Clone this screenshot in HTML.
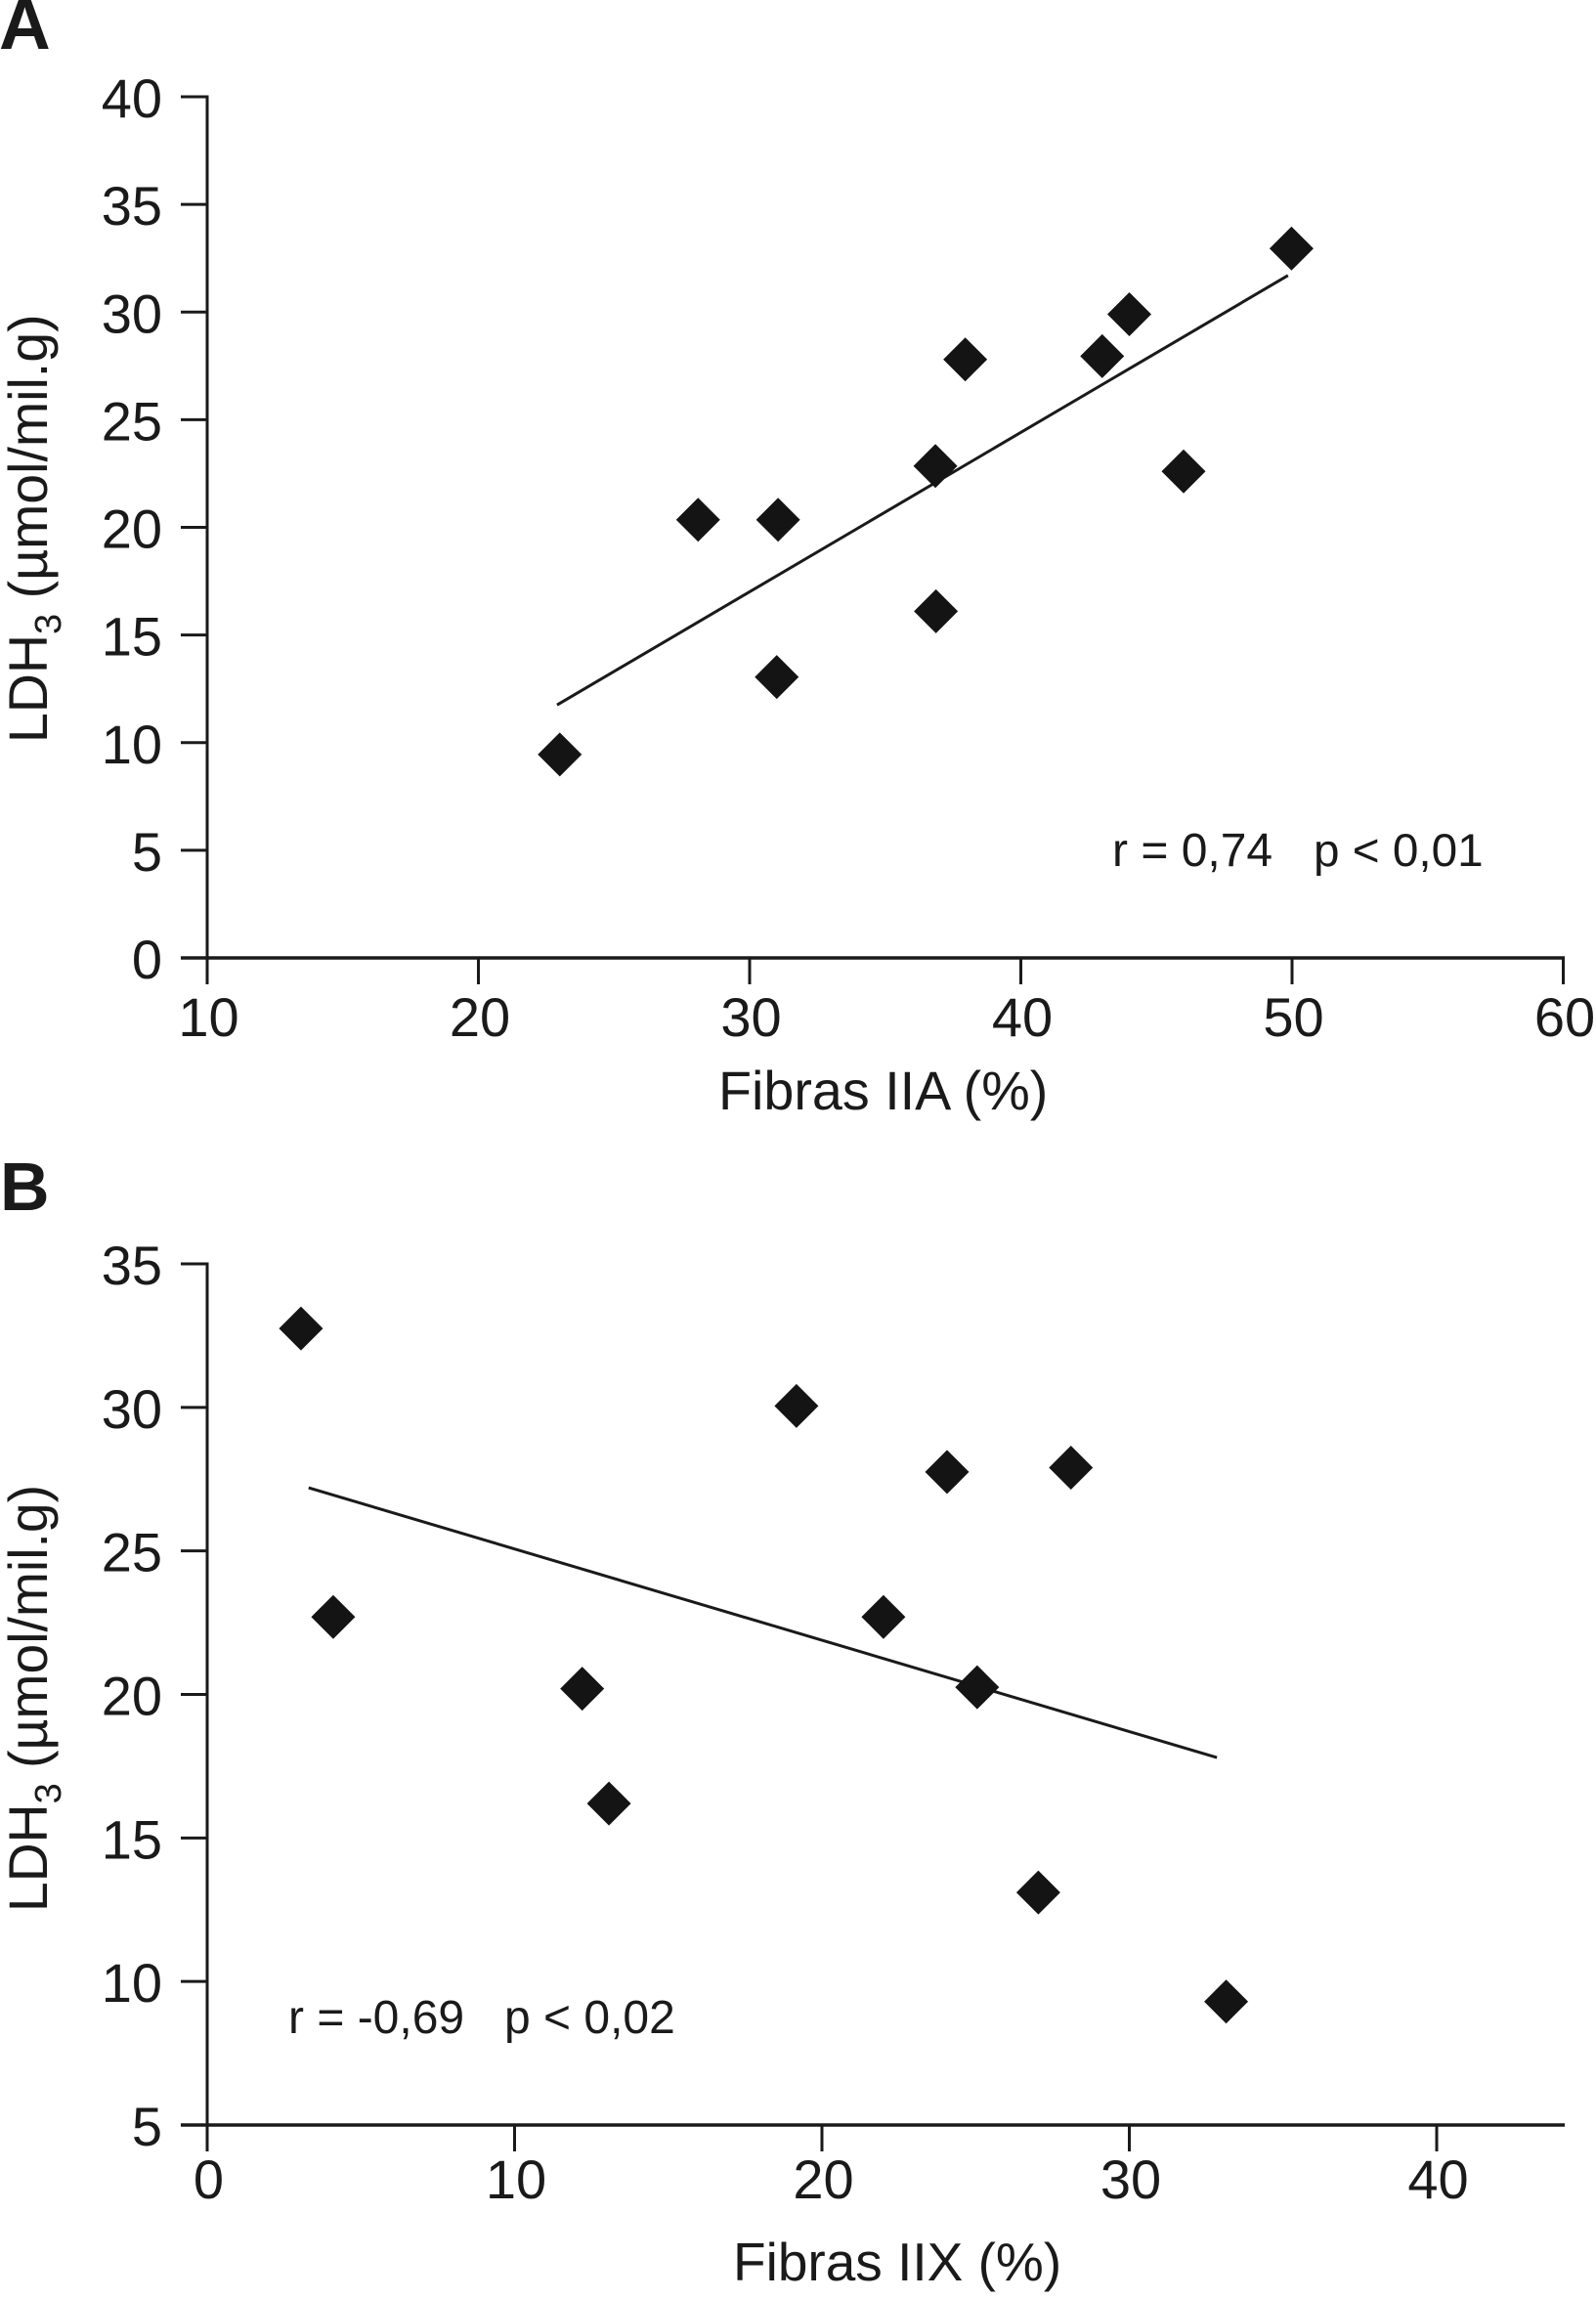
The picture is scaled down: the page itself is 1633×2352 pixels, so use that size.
<!DOCTYPE html>
<html lang="pt">
<head>
<meta charset="utf-8">
<title>LDH3 vs Fibras</title>
<style>
html,body{margin:0;padding:0;background:#fff;width:1633px;height:2352px;overflow:hidden}
svg{display:block}
text{font-family:"Liberation Sans",sans-serif;fill:#1a1a1a}
</style>
</head>
<body>
<svg id="figure" xmlns="http://www.w3.org/2000/svg" width="1633" height="2352" viewBox="0 0 1633 2352">
  <rect width="1633" height="2352" fill="#fff"/>
  <g id="panel-a">
    <text x="-1" y="50" font-size="73" font-weight="700">A</text>
    <text transform="translate(48,760) rotate(-90)" font-size="55.5">LDH<tspan font-size="38" dy="14">3</tspan><tspan dy="-14"> (µmol/mil.g)</tspan></text>
    <text x="735" y="1135" font-size="55.7">Fibras IIA (%)</text>
    <text x="1138" y="886" font-size="48">r = 0,74</text>
    <text x="1344" y="886" font-size="47.7">p &lt; 0,01</text>
  </g>
  <g id="panel-b">
    <text x="0" y="1238" font-size="70" font-weight="700">B</text>
    <text transform="translate(48,1956) rotate(-90)" font-size="55.3">LDH<tspan font-size="38" dy="14">3</tspan><tspan dy="-14"> (µmol/mil.g)</tspan></text>
    <text x="750" y="2333" font-size="55">Fibras IIX (%)</text>
    <text x="295" y="2080" font-size="48">r = -0,69</text>
    <text x="516" y="2080" font-size="48">p &lt; 0,02</text>
  </g>
</svg>
<script>
// Panel A data
var xTicksA = [10, 20, 30, 40, 50, 60];
var yTicksA = [0, 5, 10, 15, 20, 25, 30, 35, 40];
var fibrasIIA = [23, 28.1, 31.05, 31, 36.85, 36.87, 37.95, 43, 44, 46, 49.98];
var ldhA = [9.45, 20.35, 20.35, 13.05, 22.85, 16.1, 27.8, 27.95, 29.9, 22.6, 32.95];
var trendXA = [22.9, 49.85];
var trendYA = [11.75, 31.7];

// Panel B data
var xTicksB = [0, 10, 20, 30, 40];
var yTicksB = [5, 10, 15, 20, 25, 30, 35];
var fibrasIIX = [3.05, 4.1, 12.2, 13.07, 19.17, 22, 24.07, 25.05, 27.04, 28.1, 33.15];
var ldhB = [32.75, 22.7, 20.2, 16.2, 30.05, 22.7, 27.75, 20.25, 13.1, 27.9, 9.3];
var trendXB = [3.3, 32.85];
var trendYB = [27.2, 17.8];

var SVG_NS = 'http://www.w3.org/2000/svg';
var INK = '#1a1a1a';

function linearScale(d0, d1, r0, r1) {
  return function (v) { return r0 + (v - d0) * (r1 - r0) / (d1 - d0); };
}

function drawLine(parent, x1, y1, x2, y2, width, name) {
  var l = document.createElementNS(SVG_NS, 'line');
  l.setAttribute('x1', x1);
  l.setAttribute('y1', y1);
  l.setAttribute('x2', x2);
  l.setAttribute('y2', y2);
  l.setAttribute('stroke', INK);
  l.setAttribute('stroke-width', width);
  
  
  parent.appendChild(l);
}

function drawLabel(parent, x, y, str, anchor, name) {
  var t = document.createElementNS(SVG_NS, 'text');
  t.setAttribute('x', x);
  t.setAttribute('y', y);
  t.setAttribute('font-size', '56');
  t.setAttribute('text-anchor', anchor);
  t.textContent = str;
  
  
  parent.appendChild(t);
}

function drawDiamond(parent, cx, cy, r, name) {
  var p = document.createElementNS(SVG_NS, 'polygon');
  p.setAttribute('points', [cx, cy - r, cx + r, cy, cx, cy + r, cx - r, cy].join(' '));
  p.setAttribute('fill', '#141414');
  
  
  parent.appendChild(p);
}

function drawPanel(panelId, suffix, sx, sy, xTicks, yTicks, xs, ys, tx, ty, axisEndX, xLabelY) {
  var g = document.getElementById(panelId);
  var x0 = sx(xTicks[0]);
  var y0 = sy(yTicks[0]);
  var yTop = sy(yTicks[yTicks.length - 1]);

  drawLine(g, x0, yTop - 1.5, x0, y0 + 27, 3, 'y-axis-' + suffix);
  drawLine(g, x0 - 27, y0, axisEndX + 1.5, y0, 3.5, 'x-axis-' + suffix);

  yTicks.forEach(function (v) {
    if (v !== yTicks[0]) {
      drawLine(g, x0 - 27, sy(v), x0, sy(v), 3, 'y-tick-' + suffix + '-' + v);
    }
    drawLabel(g, 166, sy(v) + 21, String(v), 'end', 'y-tick-label-' + suffix + '-' + v);
  });

  xTicks.forEach(function (v) {
    if (v !== xTicks[0]) {
      drawLine(g, sx(v), y0, sx(v), y0 + 27, 3, 'x-tick-' + suffix + '-' + v);
    }
    drawLabel(g, sx(v) + 1.5, xLabelY, String(v), 'middle', 'x-tick-label-' + suffix + '-' + v);
  });

  drawLine(g, sx(tx[0]), sy(ty[0]), sx(tx[1]), sy(ty[1]), 3, 'trend-line-' + suffix);

  xs.forEach(function (v, i) {
    drawDiamond(g, sx(v), sy(ys[i]), 22.5, 'point-' + suffix + '-' + (i + 1));
  });
}

drawPanel('panel-a', 'a',
  linearScale(10, 60, 212, 1599.5),
  linearScale(0, 40, 980, 99),
  xTicksA, yTicksA, fibrasIIA, ldhA, trendXA, trendYA, 1599.5, 1060);

drawPanel('panel-b', 'b',
  linearScale(0, 40, 212, 1470),
  linearScale(5, 35, 2174, 1293),
  xTicksB, yTicksB, fibrasIIX, ldhB, trendXB, trendYB, 1599.5, 2249);
</script>
</body>
</html>
